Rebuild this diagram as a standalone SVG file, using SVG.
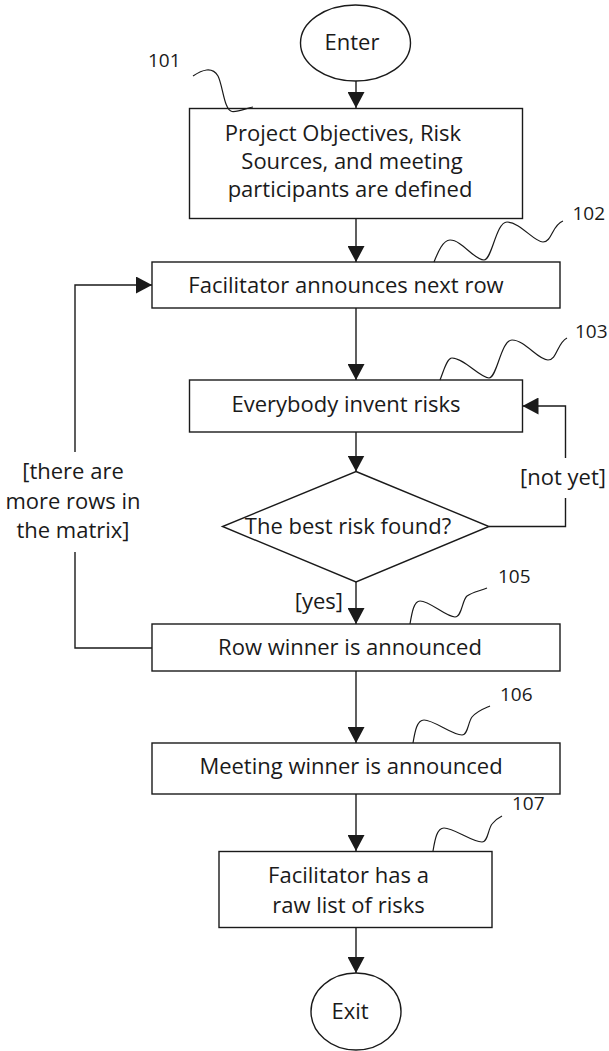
<svg xmlns="http://www.w3.org/2000/svg" width="609" height="1051" viewBox="0 0 609 1051">
  <style>
    .shape { fill: #ffffff; stroke: #1a1a1a; stroke-width: 1.4; }
    .edge { fill: none; stroke: #1a1a1a; stroke-width: 1.4; }
    .lead { fill: none; stroke: #1a1a1a; stroke-width: 1.2; }
    .txt { font-family: "Open Sans", "Noto Sans", "DejaVu Sans", sans-serif; font-size: 22px; fill: #1a1a1a; text-anchor: middle; }
    .num { font-family: "Open Sans", "Noto Sans", "DejaVu Sans", sans-serif; font-size: 19px; fill: #1a1a1a; }
  </style>
  <defs>
    <marker id="arrow" markerUnits="userSpaceOnUse" markerWidth="17" markerHeight="17" refX="16" refY="8.5" orient="auto">
      <path d="M0,0 L16,8.5 L0,17 Z" fill="#1a1a1a"/>
    </marker>
  </defs>

  <rect width="609" height="1051" fill="#ffffff"/>

  <!-- flow connectors -->
  <g id="connectors">
    <path class="edge" d="M356,81 V108" marker-end="url(#arrow)"/>
    <path class="edge" d="M356,219 V262" marker-end="url(#arrow)"/>
    <path class="edge" d="M356,308 V380" marker-end="url(#arrow)"/>
    <path class="edge" d="M356,432 V471.5" marker-end="url(#arrow)"/>
    <path class="edge" d="M356,582 V624" marker-end="url(#arrow)"/>
    <path class="edge" d="M356,671 V743" marker-end="url(#arrow)"/>
    <path class="edge" d="M356,794 V851" marker-end="url(#arrow)"/>
    <path class="edge" d="M356,928 V973" marker-end="url(#arrow)"/>
    <!-- retry loop back to risk invention -->
    <path class="edge" d="M489,526.5 H565.5 V498 M565.5,458 V406 H522.5" marker-end="url(#arrow)"/>
    <!-- next-row loop -->
    <path class="edge" d="M152,648 H75 V552 M75,452 V285 H152" marker-end="url(#arrow)"/>
    <text class="txt" x="563" y="485">[not yet]</text>
    <text class="txt" x="73" y="479">[there are</text>
    <text class="txt" x="73" y="509">more rows in</text>
    <text class="txt" x="73" y="538">the matrix]</text>
    <text class="txt" x="343" y="609" style="text-anchor:end">[yes]</text>
  </g>

  <g id="enter">
    <ellipse class="shape" cx="355.5" cy="43" rx="55" ry="38"/>
    <text class="txt" x="352" y="50">Enter</text>
  </g>

  <g id="step101">
    <rect class="shape" x="189.5" y="108.5" width="333" height="110"/>
    <text class="txt" x="343" y="141">Project Objectives, Risk</text>
    <text class="txt" x="352" y="169">Sources, and meeting</text>
    <text class="txt" x="350" y="197">participants are defined</text>
    <path class="lead" d="M193,76 C202,70 212,66 218,76 C223,86 224,110 232,111.5 C240,112 246,108 253,107"/>
    <text class="num" x="148" y="67">101</text>
  </g>

  <g id="step102">
    <rect class="shape" x="152" y="262" width="408" height="46"/>
    <text class="txt" x="346" y="293">Facilitator announces next row</text>
    <path class="lead" d="M434,262 C438,252 443,240 450,240 C462,240 474,260 484,260 C492,260 496,222 507,222 C520,222 534,242 543,242 C552,242 552,225 563,221"/>
    <text class="num" x="572.5" y="220">102</text>
  </g>

  <g id="step103">
    <rect class="shape" x="189.5" y="380" width="333" height="52"/>
    <text class="txt" x="346" y="412">Everybody invent risks</text>
    <path class="lead" d="M440,380 C444,370 447,358 452,358 C464,358 480,378 489,378 C497,378 501,340 512,340 C525,340 538,360 548,360 C557,360 557,343 567,338"/>
    <text class="num" x="575" y="338">103</text>
  </g>

  <g id="decision">
    <polygon class="shape" points="356,471.5 489,526.5 356,582 222.5,526.5"/>
    <text class="txt" x="348" y="534">The best risk found?</text>
  </g>

  <g id="step105">
    <rect class="shape" x="152" y="624" width="408" height="47"/>
    <text class="txt" x="350" y="655">Row winner is announced</text>
    <path class="lead" d="M410,624 C412,612 414,601 420,601 C430,601 446,617 455,617 C462,617 462,600 467,596 C473,592 480,591 487,588"/>
    <text class="num" x="498" y="583">105</text>
  </g>

  <g id="step106">
    <rect class="shape" x="152" y="743" width="408" height="51"/>
    <text class="txt" x="351" y="774">Meeting winner is announced</text>
    <path class="lead" d="M413,743 C415,731 417,720 424,720 C434,720 452,735 462,735 C468,735 468,722 472,717 C477,711 483,709 490,706"/>
    <text class="num" x="500" y="701">106</text>
  </g>

  <g id="step107">
    <rect class="shape" x="219" y="851.5" width="273" height="76"/>
    <text class="txt" x="348.5" y="883">Facilitator has a</text>
    <text class="txt" x="348.5" y="913">raw list of risks</text>
    <path class="lead" d="M433,851 C435,839 437,828 444,828 C454,828 472,842 482,842 C488,842 488,829 492,824 C495,820 498,818 502,816"/>
    <text class="num" x="512" y="810">107</text>
  </g>

  <g id="exit">
    <ellipse class="shape" cx="356" cy="1011.5" rx="45" ry="38.5"/>
    <text class="txt" x="350" y="1019">Exit</text>
  </g>
</svg>
